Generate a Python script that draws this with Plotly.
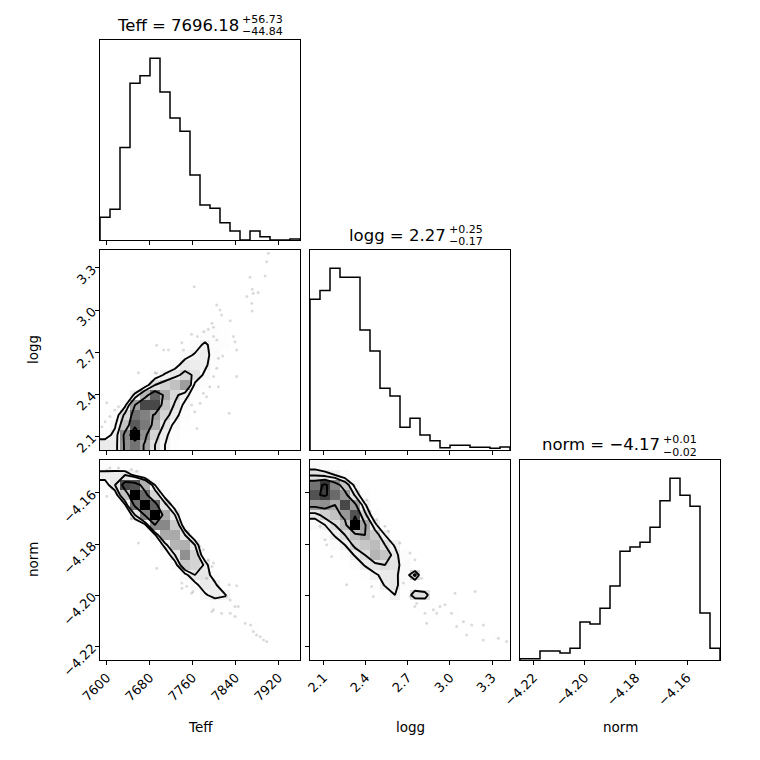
import numpy as np
import plotly.graph_objects as go

# parameter ranges (the histogram ranges and the axis limits)
teff_range = [7587.5, 7960.0]
logg_range = [2.003, 3.428]
norm_range = [-4.2253, -4.1471]
n_bins = 20

teff_ticks = [7600, 7680, 7760, 7840, 7920]
teff_ticktext = ["7600", "7680", "7760", "7840", "7920"]
logg_ticks = [2.1, 2.4, 2.7, 3.0, 3.3]
logg_ticktext = ["2.1", "2.4", "2.7", "3.0", "3.3"]
norm_ticks = [-4.22, -4.20, -4.18, -4.16]
norm_ticktext = ["\u22124.22", "\u22124.20", "\u22124.18", "\u22124.16"]

# 1d marginal histograms (counts per bin, 20 bins)
teff_hist = [68, 92, 277, 470, 492, 545, 444, 366, 326, 195, 105, 95, 52, 27, 0, 27, 10, 0, 0, 3]
logg_hist = [452, 478, 545, 518, 518, 360, 297, 185, 162, 68, 95, 45, 28, 7, 14, 14, 8, 8, 5, 9]
norm_hist = [4, 4, 27, 27, 21, 35, 114, 108, 155, 222, 326, 339, 353, 398, 477, 545, 494, 461, 141, 35]

# 2d histograms, relative counts: row (y bin) -> (first x bin, values)
dens_logg_teff = {
    0: (0, [28, 26, 64, 72, 58, 34, 20, 6]),
    1: (0, [14, 24, 66, 97, 64, 40, 24, 10]),
    2: (1, [18, 48, 78, 70, 55, 30, 16, 6]),
    3: (1, [10, 38, 72, 68, 58, 40, 26, 10]),
    4: (2, [16, 60, 82, 82, 48, 32, 16]),
    5: (3, [24, 52, 76, 56, 38, 26, 10]),
    6: (4, [12, 34, 42, 48, 60, 16, 8]),
    7: (5, [12, 22, 30, 38, 32, 16]),
    8: (6, [8, 14, 28, 26, 24, 8]),
    9: (8, [14, 22, 26, 12]),
    10: (9, [12, 24, 10, 8]),
    11: (10, [10, 8, 6]),
    12: (11, [6, 6, 4]),
    13: (12, [4, 4]),
    14: (13, [4, 0, 4]),
    15: (15, [6, 4]),
    16: (15, [4, 4]),
    17: (15, [4]),
    18: (16, [3]),
    19: (16, [4, 0, 0, 2]),
}
dens_norm_teff = {
    0: (16, [2]),
    1: (16, [2]),
    2: (15, [6, 4]),
    3: (13, [4, 0, 6]),
    4: (13, [6, 0, 4]),
    5: (11, [8, 8, 6]),
    6: (10, [18, 26, 22]),
    7: (9, [16, 28, 24]),
    8: (8, [16, 30, 30, 10]),
    9: (7, [14, 44, 40, 28]),
    10: (6, [10, 30, 64, 40, 8]),
    11: (5, [6, 24, 52, 54, 30]),
    12: (5, [18, 56, 56, 30, 8]),
    13: (3, [6, 16, 66, 66, 44, 10]),
    14: (3, [30, 68, 97, 56, 30]),
    15: (2, [18, 72, 97, 76, 34, 12]),
    16: (1, [12, 48, 97, 74, 40, 14]),
    17: (0, [14, 30, 82, 80, 54, 20]),
    18: (0, [26, 28, 30, 16, 6]),
    19: (0, [10, 8, 4]),
}
dens_norm_logg = {
    0: (19, [2]),
    1: (19, [4]),
    2: (17, [4, 6]),
    3: (15, [6, 4, 4]),
    4: (12, [6, 4, 6]),
    5: (11, [6, 6]),
    6: (7, [8, 24, 6, 36, 34]),
    7: (6, [8, 26, 30, 10, 8]),
    8: (5, [8, 22, 28, 28, 14, 40]),
    9: (4, [10, 26, 32, 36, 32, 14]),
    10: (3, [10, 26, 36, 52, 46, 30, 10]),
    11: (2, [12, 24, 40, 46, 50, 36, 22]),
    12: (1, [12, 26, 36, 50, 56, 44, 24]),
    13: (0, [14, 24, 36, 50, 97, 58, 28, 6]),
    14: (0, [30, 42, 48, 62, 80, 40, 12]),
    15: (0, [62, 64, 56, 82, 60, 26, 6]),
    16: (0, [80, 84, 74, 62, 34, 10]),
    17: (0, [72, 86, 66, 46, 20, 4]),
    18: (0, [34, 30, 24, 14, 4]),
    19: (0, [16, 12, 6]),
}

# samples visible outside the contours
pts_a_teff = [7901, 7898, 7895, 7867, 7871, 7873, 7882, 7861, 7870, 7871, 7763, 7805, 7811, 7814,
              7830, 7796, 7799, 7789, 7781, 7758, 7769, 7740, 7743, 7693, 7706, 7715, 7799, 7805,
              7836, 7839, 7842, 7808, 7816, 7805, 7799, 7780, 7786, 7774, 7758, 7842, 7828, 7768,
              7659, 7690, 7693, 7600, 7606, 7615, 7622, 7597, 7591, 7792, 7808, 7764]
pts_a_logg = [3.404, 3.345, 3.243, 3.233, 3.148, 3.119, 3.126, 3.096, 3.048, 2.993, 3.167, 3.036,
              3.001, 2.965, 2.924, 2.906, 2.877, 2.863, 2.846, 2.827, 2.811, 2.768, 2.716, 2.749,
              2.716, 2.716, 2.811, 2.787, 2.811, 2.775, 2.716, 2.656, 2.673, 2.585, 2.526, 2.407,
              2.383, 2.336, 2.324, 2.526, 2.264, 2.157, 2.554, 2.554, 2.549, 2.340, 2.241, 2.288,
              2.312, 2.205, 2.169, 2.454, 2.454, 2.276]
pts_b_teff = [7600, 7606, 7622, 7646, 7656, 7678, 7600, 7646, 7659, 7693, 7740, 7749, 7761, 7774,
              7780, 7789, 7799, 7796, 7792, 7786, 7799, 7828, 7842, 7823, 7830, 7839, 7845, 7830,
              7814, 7799, 7796, 7839, 7858, 7868, 7873, 7879, 7892, 7898, 7886, 7740, 7758]
pts_b_norm = [-4.1511, -4.1502, -4.1502, -4.1508, -4.1515, -4.1547, -4.1613, -4.1701, -4.1796,
              -4.1894, -4.1952, -4.1965, -4.1985, -4.1809, -4.1822, -4.1861, -4.1874, -4.1887,
              -4.1913, -4.1933, -4.1939, -4.1959, -4.1963, -4.2005, -4.2018, -4.2044, -4.2044,
              -4.2070, -4.2070, -4.2057, -4.2063, -4.2083, -4.2109, -4.2116, -4.2142, -4.2155,
              -4.2175, -4.2181, -4.2162, -4.1972, -4.1992]
pts_c_logg = [2.407, 2.431, 2.478, 2.537, 2.561, 2.644, 2.716, 2.751, 2.799, 2.668, 2.763, 2.822,
              2.834, 2.882, 2.906, 2.929, 2.965, 3.012, 3.036, 3.048, 3.096, 3.119, 3.155, 3.179,
              3.238, 3.238, 3.345, 3.404, 2.264, 2.454, 2.442, 2.110, 2.122, 2.157, 2.074, 2.716,
              2.751]
pts_c_norm = [-4.1626, -4.1671, -4.1704, -4.1730, -4.1750, -4.1796, -4.1835, -4.1861, -4.1933,
              -4.1952, -4.2031, -4.2070, -4.2109, -4.2057, -4.2070, -4.2044, -4.2037, -4.2070,
              -4.1992, -4.2122, -4.2103, -4.2155, -4.2116, -4.1985, -4.2116, -4.2175, -4.2168,
              -4.2181, -4.1959, -4.2005, -4.1966, -4.1783, -4.1802, -4.1848, -4.1730, -4.2005,
              -4.2044]

titles = [("Teff = 7696.18", "+56.73", "\u221244.84"),
          ("logg = 2.27", "+0.25", "\u22120.17"),
          ("norm = \u22124.17", "+0.01", "\u22120.02")]

# corner's default sigma levels
levels = 1.0 - np.exp(-0.5 * np.arange(0.5, 2.1, 0.5) ** 2)

FONT = "DejaVu Sans"
W = 760
OFF = 8  # the page body margin shifts the figure by this much


def edges(rng):
    return np.linspace(rng[0], rng[1], n_bins + 1)


def centers(rng):
    e = edges(rng)
    return 0.5 * (e[1:] + e[:-1])


def build_grid(rows):
    H = np.zeros((n_bins, n_bins))
    for r, (c0, vals) in rows.items():
        H[r, c0:c0 + len(vals)] = vals
    return H


def contour_levels(H):
    flat = np.sort(H.ravel())[::-1]
    cum = np.cumsum(flat) / flat.sum()
    V = []
    for lv in levels:
        sel = flat[cum <= lv]
        V.append(sel[-1] if len(sel) else flat[0])
    V = np.sort(np.array(V, dtype=float))
    m = np.diff(V) == 0
    while np.any(m):
        V[np.where(m)[0][0]] *= 1.0 - 1e-4
        m = np.diff(V) == 0
    return np.sort(V)


def padded(H, xc, yc):
    # same padding corner uses so the contours close past the edges
    H2 = np.zeros((H.shape[0] + 4, H.shape[1] + 4))
    H2[2:-2, 2:-2] = H
    H2[2:-2, 1] = H[:, 0]
    H2[2:-2, -2] = H[:, -1]
    H2[1, 2:-2] = H[0]
    H2[-2, 2:-2] = H[-1]
    H2[1, 1] = H[0, 0]
    H2[1, -2] = H[0, -1]
    H2[-2, 1] = H[-1, 0]
    H2[-2, -2] = H[-1, -1]
    dx, dy = xc[1] - xc[0], yc[1] - yc[0]
    X2 = np.concatenate([xc[0] + np.array([-2, -1]) * dx, xc, xc[-1] + np.array([1, 2]) * dx])
    Y2 = np.concatenate([yc[0] + np.array([-2, -1]) * dy, yc, yc[-1] + np.array([1, 2]) * dy])
    return H2, X2, Y2


fig = go.Figure()


def add_hist(counts, rng, ax):
    e = edges(rng)
    xs = [e[0]] + list(e) + [e[-1]]
    ys = [0] + list(counts) + [counts[-1], 0]
    fig.add_trace(go.Scatter(x=xs, y=ys, mode="lines", line=dict(color="black", width=1.5, shape="hv"),
                             hoverinfo="skip", showlegend=False, xaxis="x" + ax, yaxis="y" + ax))


def add_2d(rows, xr, yr, px, py, ax):
    xc, yc = centers(xr), centers(yr)
    H = build_grid(rows)
    fig.add_trace(go.Scatter(x=px, y=py, mode="markers",
                             marker=dict(size=3, color="rgba(0,0,0,0.14)"),
                             hoverinfo="skip", showlegend=False, xaxis="x" + ax, yaxis="y" + ax))
    fig.add_trace(go.Heatmap(z=np.where(H > 0, H, np.nan), x=xc, y=yc, zmin=0, zmax=H.max(),
                             colorscale=[[0, "rgba(255,255,255,0)"], [1, "rgba(0,0,0,1)"]],
                             showscale=False, hoverinfo="skip", xaxis="x" + ax, yaxis="y" + ax))
    H2, X2, Y2 = padded(H, xc, yc)
    for v in contour_levels(H):
        fig.add_trace(go.Contour(z=H2, x=X2, y=Y2, autocontour=False,
                                 contours=dict(start=v, end=v, size=1, coloring="none"),
                                 line=dict(color="black", width=1.9, smoothing=0),
                                 showscale=False, hoverinfo="skip", xaxis="x" + ax, yaxis="y" + ax))


add_hist(teff_hist, teff_range, "")
add_2d(dens_logg_teff, teff_range, logg_range, pts_a_teff, pts_a_logg, "2")
add_hist(logg_hist, logg_range, "3")
add_2d(dens_norm_teff, teff_range, norm_range, pts_b_teff, pts_b_norm, "4")
add_2d(dens_norm_logg, logg_range, norm_range, pts_c_logg, pts_c_norm, "5")
add_hist(norm_hist, norm_range, "6")


def px_x(x):
    return (x - OFF) / W


def px_y(y):
    return 1 - (y - OFF) / W


def dom_x(col):
    return [px_x(100 + 210 * col), px_x(300 + 210 * col)]


def dom_y(row):
    return [px_y(240 + 210 * row), px_y(40 + 210 * row)]


def axis(domain, rng, anchor, ticks=None, ticktext=None, labels=True):
    d = dict(domain=domain, range=rng, anchor=anchor, showline=True, linecolor="black", linewidth=1,
             mirror=True, showgrid=False, zeroline=False, fixedrange=True, automargin=False)
    if ticks is None:
        d.update(ticks="", showticklabels=False, tickvals=[])
    else:
        d.update(tickmode="array", tickvals=ticks, ticktext=ticktext, ticks="outside", ticklen=4,
                 tickwidth=1, tickcolor="black", showticklabels=labels, tickangle=-45,
                 tickfont=dict(family=FONT, size=13, color="black"))
    return d


var_range = [teff_range, logg_range, norm_range]
var_ticks = [teff_ticks, logg_ticks, norm_ticks]
var_text = [teff_ticktext, logg_ticktext, norm_ticktext]
hists = [teff_hist, logg_hist, norm_hist]

panels = [(0, 0, ""), (1, 0, "2"), (1, 1, "3"), (2, 0, "4"), (2, 1, "5"), (2, 2, "6")]
layout_axes = {}
for row, col, ax in panels:
    xname = "xaxis" + ax
    yname = "yaxis" + ax
    layout_axes[xname] = axis(dom_x(col), var_range[col], "y" + ax, var_ticks[col], var_text[col],
                              labels=(row == 2))
    if row == col:
        top = 1.1 * max(hists[col])
        layout_axes[yname] = axis(dom_y(row), [0, top], "x" + ax)
    else:
        layout_axes[yname] = axis(dom_y(row), var_range[row], "x" + ax, var_ticks[row], var_text[row],
                                  labels=(col == 0))

annotations = []


def text(x, y, s, size, xanchor="center", angle=0):
    annotations.append(dict(x=px_x(x), y=px_y(y), xref="paper", yref="paper", text=s, showarrow=False,
                            xanchor=xanchor, yanchor="middle", textangle=angle, borderpad=0,
                            font=dict(family=FONT, size=size, color="black")))


# titles above the diagonal panels, with stacked errors
split_x = [240, 447, 661]
for i, (main, up, down) in enumerate(titles):
    top = 40 + 210 * i
    text(split_x[i], top - 15, main, 16.5, xanchor="right")
    text(split_x[i] + 1, top - 20.5, up, 11, xanchor="left")
    text(split_x[i] + 1, top - 8, down, 11, xanchor="left")

names = ["Teff", "logg", "norm"]
for i in range(3):
    text(200 + 210 * i, 727, names[i], 13.5)
text(33, 350, "logg", 13.5, angle=-90)
text(33, 560, "norm", 13.5, angle=-90)

fig.update_layout(width=W, height=W, autosize=False, margin=dict(l=0, r=0, t=0, b=0, pad=0),
                  paper_bgcolor="white", plot_bgcolor="white", showlegend=False,
                  annotations=annotations, **layout_axes)

fig.write_html("out.html")
